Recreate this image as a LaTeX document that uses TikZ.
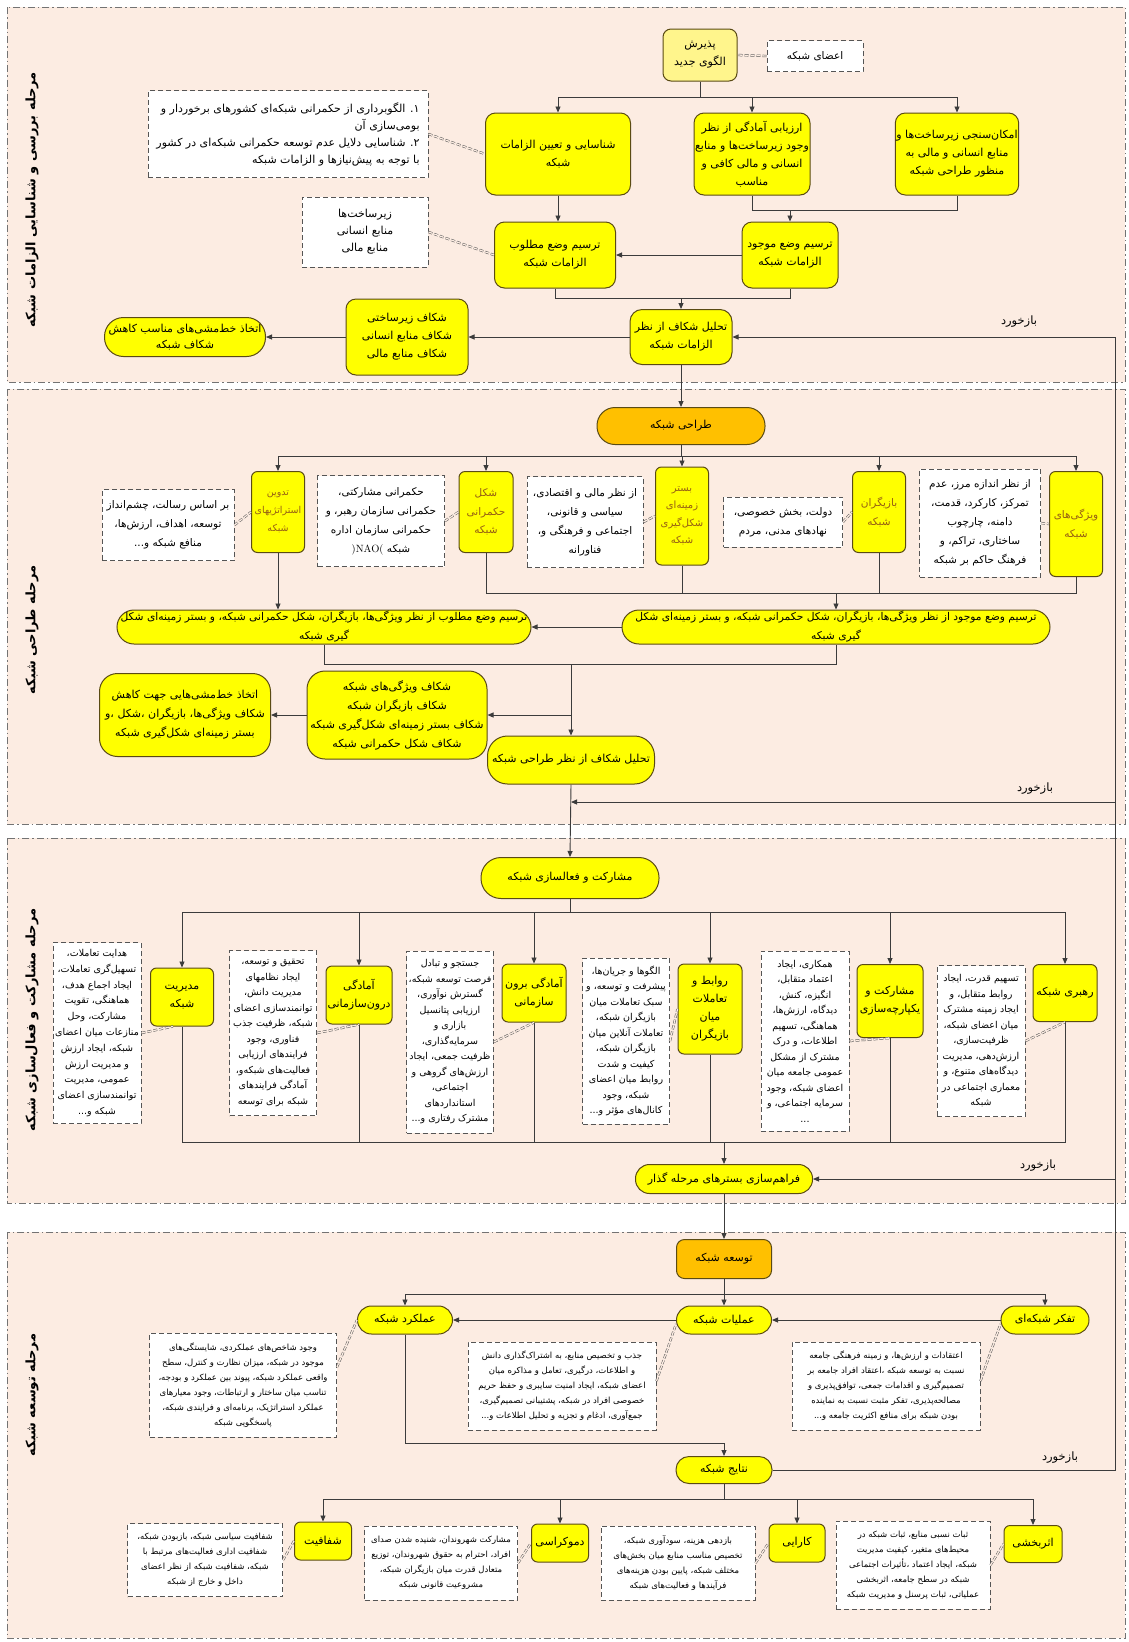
\documentclass[tikz,border=0pt]{standalone}
\usepackage{fontspec}
\usetikzlibrary{arrows.meta}
\newfontfamily\pfont[Script=Arabic]{DejaVu Sans}
\TeXXeTstate=1
\newcommand{\fa}[1]{\beginR#1\endR}
\newcommand{\fyel}{\pfont\fontsize{11}{18}\selectfont}
\newcommand{\fnar}{\pfont\fontsize{10.5}{18.5}\selectfont}
\newcommand{\fdsh}{\pfont\fontsize{10.5}{19}\selectfont}
\newcommand{\fdsm}{\pfont\fontsize{9.5}{15.5}\selectfont}
\newcommand{\fdss}{\pfont\fontsize{8.5}{15}\selectfont}
\definecolor{bgc}{RGB}{252,236,226}
\definecolor{yel}{RGB}{255,255,0}
\definecolor{pyel}{RGB}{255,245,140}
\definecolor{org}{RGB}{255,192,0}
\definecolor{ybd}{RGB}{90,75,20}
\definecolor{lnc}{RGB}{60,60,60}
\definecolor{dbc}{RGB}{85,85,85}
\definecolor{brn}{RGB}{150,95,20}
\begin{document}
\begin{tikzpicture}[x=1pt,y=-1pt,
 stg/.style={draw=black!55, fill=bgc, line width=0.7pt, dash pattern=on 7pt off 3pt on 1.5pt off 3pt},
 yb/.style={draw=ybd, fill=yel, line width=1pt, rounded corners=8pt, align=center, inner sep=1pt, text=black, font=\fyel},
 ob/.style={yb, fill=org},
 db/.style={draw=dbc, fill=white, line width=1pt, dash pattern=on 5pt off 3pt, align=center, inner sep=2pt, font=\fdsh},
 dbm/.style={db, font=\fdsm},
 dbs/.style={db, font=\fdss},
 ln/.style={draw=lnc, line width=0.9pt},
 ar/.style={ln, -{Triangle[length=6pt,width=5pt]}},
 dl/.style={draw=dbc, line width=0.5pt, dash pattern=on 4pt off 2pt, double=bgc, double distance=1.3pt},
 lab/.style={rotate=90, font={\pfont\bfseries\fontsize{13}{15}\selectfont}},
 fbt/.style={font={\pfont\fontsize{11.5}{13}\selectfont}},
 bt/.style={text=brn, font=\fnar},
]
\useasboundingbox (0,0) rectangle (1129,1642);
\fill[white] (0,0) rectangle (1129,1642);
\draw[stg] (7,7) rectangle (1125,382);
\draw[stg] (7,389) rectangle (1125,824);
\draw[stg] (7,838) rectangle (1125,1203);
\draw[stg] (7,1232) rectangle (1125,1638);

% stage labels
\node[lab] (L1) at (32,200) {\fa{مرحله بررسی و شناسایی الزامات شبکه}};
\node[lab] (L2) at (32,630) {\fa{مرحله طراحی شبکه}};
\node[lab] (L3) at (32,1020) {\fa{مرحله مشارکت و فعال‌سازی شبکه}};
\node[lab] (L4) at (32,1395) {\fa{مرحله توسعه شبکه}};

% ---------- stage 1
\node[yb, fill=pyel, minimum width=74, minimum height=52] (paz) at (700,55) {\fa{پذیرش}\\\fa{الگوی جدید}};
\node[db, minimum width=96, minimum height=31] (aza) at (815,56) {\fa{اعضای شبکه}};
\node[yb, rounded corners=10pt, minimum width=145, minimum height=82] (shen) at (558,154) {\fa{شناسایی و تعیین الزامات}\\\fa{شبکه}};
\node[yb, rounded corners=10pt, minimum width=116, minimum height=82] (arz) at (752,154) {\fa{ارزیابی آمادگی از نظر}\\\fa{وجود زیرساخت‌ها و منابع}\\\fa{انسانی و مالی کافی و}\\\fa{مناسب}};
\node[yb, rounded corners=10pt, minimum width=119, minimum height=82] (emk) at (957,154) {\fa{امکان‌سنجی زیرساخت‌ها و}\\\fa{منابع انسانی و مالی به}\\\fa{منظور طراحی شبکه}};
\node[yb, rounded corners=10pt, minimum width=96, minimum height=66] (movj) at (790,255) {\fa{ترسیم وضع موجود}\\\fa{الزامات شبکه}};
\node[yb, rounded corners=10pt, minimum width=121, minimum height=66] (matl) at (555,255) {\fa{ترسیم وضع مطلوب}\\\fa{الزامات شبکه}};
\node[yb, rounded corners=12pt, minimum width=102, minimum height=55] (tahl) at (681,337) {\fa{تحلیل شکاف از نظر}\\\fa{الزامات شبکه}};
\node[yb, rounded corners=10pt, minimum width=122, minimum height=76] (shk1) at (407,337) {\fa{شکاف زیرساختی}\\\fa{شکاف منابع انسانی}\\\fa{شکاف منابع مالی}};
\node[yb, rounded corners=19pt, minimum width=161, minimum height=39, font={\pfont\fontsize{11}{16}\selectfont}] (ett1) at (185,337) {\fa{اتخاذ خط‌مشی‌های مناسب کاهش}\\\fa{شکاف شبکه}};
\node[db, align=right, minimum width=280, minimum height=87, font={\pfont\fontsize{11}{17}\selectfont}] (d1) at (288,134) {\fa{۱. الگوبرداری از حکمرانی شبکه‌ای کشورهای برخوردار و}\\\fa{بومی‌سازی آن}\\\fa{۲. شناسایی دلایل عدم توسعه حکمرانی شبکه‌ای در کشور}\\\fa{با توجه به پیش‌نیازها و الزامات شبکه}};
\node[db, minimum width=126, minimum height=70, font={\pfont\fontsize{11}{17}\selectfont}] (d2) at (365,232) {\fa{زیرساخت‌ها}\\\fa{منابع انسانی}\\\fa{منابع مالی}};
\node[fbt] (fb1) at (1019,322) {\fa{بازخورد}};

% ---------- stage 2
\node[ob, rounded corners=18pt, minimum width=168, minimum height=37] (tarahi) at (681,426) {\fa{طراحی شبکه}};
\node[yb, bt, rounded corners=6pt, minimum width=53, minimum height=105] (vij) at (1076,524) {\fa{ویژگی‌های}\\\fa{شبکه}};
\node[db, minimum width=121, minimum height=108] (dv) at (980,523) {\fa{از نظر اندازه مرز، عدم}\\\fa{تمرکز، کارکرد، قدمت،}\\\fa{دامنه، چارچوب}\\\fa{ساختاری، تراکم، و}\\\fa{فرهنگ حاکم بر شبکه}};
\node[yb, bt, rounded corners=6pt, minimum width=53, minimum height=81] (bazig) at (879,512) {\fa{بازیگران}\\\fa{شبکه}};
\node[db, minimum width=119, minimum height=50] (dbz) at (783,522) {\fa{دولت، بخش خصوصی،}\\\fa{نهادهای مدنی، مردم}};
\node[yb, bt, rounded corners=6pt, minimum width=53, minimum height=98, font={\pfont\fontsize{10}{17.5}\selectfont}] (bastar) at (682,516) {\fa{بستر}\\\fa{زمینه‌ای}\\\fa{شکل‌گیری}\\\fa{شبکه}};
\node[db, minimum width=116, minimum height=91] (dbs) at (585,522) {\fa{از نظر مالی و اقتصادی،}\\\fa{سیاسی و قانونی،}\\\fa{اجتماعی و فرهنگی و،}\\\fa{فناورانه}};
\node[yb, bt, rounded corners=6pt, minimum width=54, minimum height=81] (hokm) at (486,512) {\fa{شکل}\\\fa{حکمرانی}\\\fa{شبکه}};
\node[db, minimum width=127, minimum height=91] (dh) at (381,521) {\fa{حکمرانی مشارکتی،}\\\fa{حکمرانی سازمان رهبر، و}\\\fa{حکمرانی سازمان اداره}\\\fa{شبکه \beginL{\rmfamily )NAO(}\endL}};
\node[yb, bt, rounded corners=6pt, minimum width=53, minimum height=81, font={\pfont\fontsize{9.5}{18}\selectfont}] (tadvin) at (278,512) {\fa{تدوین}\\\fa{استراتژیهای}\\\fa{شبکه}};
\node[db, minimum width=132, minimum height=71] (dt) at (168,525) {\fa{بر اساس رسالت، چشم‌انداز}\\\fa{توسعه، اهداف، ارزش‌ها،}\\\fa{منافع شبکه و...}};
\node[yb, rounded corners=17pt, minimum width=428, minimum height=34] (mvj2) at (836,627) {};
\node[align=center, font={\pfont\fontsize{10.7}{19}\selectfont}] (mvj2t) at (mvj2.center) {\fa{ترسیم وضع موجود از نظر ویژگی‌ها، بازیگران، شکل حکمرانی شبکه، و بستر زمینه‌ای شکل}\\\fa{گیری شبکه}};
\node[yb, rounded corners=17pt, minimum width=414, minimum height=34] (mtl2) at (324,627) {};
\node[align=center, font={\pfont\fontsize{10.7}{19}\selectfont}] (mtl2t) at (mtl2.center) {\fa{ترسیم وضع مطلوب از نظر ویژگی‌ها، بازیگران، شکل حکمرانی شبکه، و بستر زمینه‌ای شکل}\\\fa{گیری شبکه}};
\node[yb, rounded corners=20pt, minimum width=167, minimum height=48] (tahl2) at (571,760) {\fa{تحلیل شکاف از نظر طراحی شبکه}};
\node[yb, rounded corners=18pt, minimum width=180, minimum height=88, font={\pfont\fontsize{11}{19}\selectfont}] (shk2) at (397,715) {\fa{شکاف ویژگی‌های شبکه}\\\fa{شکاف بازیگران شبکه}\\\fa{شکاف بستر زمینه‌ای شکل‌گیری شبکه}\\\fa{شکاف شکل حکمرانی شبکه}};
\node[yb, rounded corners=18pt, minimum width=171, minimum height=83, font={\pfont\fontsize{11}{19}\selectfont}] (ett2) at (185,715) {\fa{اتخاذ خط‌مشی‌هایی جهت کاهش}\\\fa{شکاف ویژگی‌ها، بازیگران ،شکل ،و}\\\fa{بستر زمینه‌ای شکل‌گیری شبکه}};
\node[fbt] (fb2l) at (1035,789) {\fa{بازخورد}};

% ---------- stage 3
\node[yb, rounded corners=20pt, minimum width=178, minimum height=41] (mosh) at (570,878) {\fa{مشارکت و فعالسازی شبکه}};
\node[yb, rounded corners=6pt, minimum width=64, minimum height=57] (rahb) at (1065,993) {\fa{رهبری شبکه}};
\node[dbm, minimum width=88, minimum height=151] (dr) at (981,1041) {\fa{تسهیم قدرت، ایجاد}\\\fa{روابط متقابل، و}\\\fa{ایجاد زمینه مشترک}\\\fa{میان اعضای شبکه،}\\\fa{ظرفیت‌سازی،}\\\fa{ارزش‌دهی، مدیریت}\\\fa{دیدگاه‌های متنوع، و}\\\fa{معماری اجتماعی در}\\\fa{شبکه}};
\node[yb, rounded corners=6pt, minimum width=66, minimum height=73] (mosh2) at (890,1001) {\fa{مشارکت و}\\\fa{یکپارچه‌سازی}};
\node[dbm, minimum width=88, minimum height=180] (dm) at (805,1041) {\fa{همکاری، ایجاد}\\\fa{اعتماد متقابل،}\\\fa{انگیزه، کنش،}\\\fa{دیدگاه، ارزش‌ها،}\\\fa{هماهنگی، تسهیم}\\\fa{اطلاعات، و درک}\\\fa{مشترک از مشکل}\\\fa{عمومی جامعه میان}\\\fa{اعضای شبکه، وجود}\\\fa{سرمایه اجتماعی، و}\\\fa{...}};
\node[yb, rounded corners=6pt, minimum width=64, minimum height=90] (ravab) at (710,1009) {\fa{روابط و}\\\fa{تعاملات}\\\fa{میان}\\\fa{بازیگران}};
\node[dbm, minimum width=87, minimum height=166] (drv) at (626,1041) {\fa{الگوها و جریان‌ها،}\\\fa{پیشرفت و توسعه، و}\\\fa{سبک تعاملات میان}\\\fa{بازیگران شبکه،}\\\fa{تعاملات آنلاین میان}\\\fa{بازیگران شبکه،}\\\fa{کیفیت و شدت}\\\fa{روابط میان اعضای}\\\fa{شبکه، وجود}\\\fa{کانال‌های مؤثر و...}};
\node[yb, rounded corners=6pt, minimum width=64, minimum height=58] (boron) at (534,993) {\fa{آمادگی برون}\\\fa{سازمانی}};
\node[dbm, minimum width=86, minimum height=182] (dbo) at (450,1042) {\fa{جستجو و تبادل}\\\fa{فرصت توسعه شبکه،}\\\fa{گسترش نوآوری،}\\\fa{ارزیابی پتانسیل}\\\fa{بازاری و}\\\fa{سرمایه‌گذاری،}\\\fa{ظرفیت جمعی، ایجاد}\\\fa{ارزش‌های گروهی و}\\\fa{اجتماعی،}\\\fa{استانداردهای}\\\fa{مشترک رفتاری و...}};
\node[yb, rounded corners=6pt, minimum width=66, minimum height=58] (daroon) at (359,995) {\fa{آمادگی}\\\fa{درون‌سازمانی}};
\node[dbm, minimum width=87, minimum height=165] (dd) at (273,1033) {\fa{تحقیق و توسعه،}\\\fa{ایجاد نظامهای}\\\fa{مدیریت دانش،}\\\fa{توانمندسازی اعضای}\\\fa{شبکه، ظرفیت جذب}\\\fa{فناوری، وجود}\\\fa{فرایندهای ارزیابی}\\\fa{فعالیت‌های شبکه‌و،}\\\fa{آمادگی فرایندهای}\\\fa{شبکه برای توسعه}};
\node[yb, rounded corners=6pt, minimum width=63, minimum height=58] (modir) at (182,997) {\fa{مدیریت}\\\fa{شبکه}};
\node[dbm, minimum width=88, minimum height=181, font={\pfont\fontsize{9.5}{15.8}\selectfont}] (dmo) at (97,1033) {\fa{هدایت تعاملات،}\\\fa{تسهیل‌گری تعاملات،}\\\fa{ایجاد اجماع هدف،}\\\fa{هماهنگی، تقویت}\\\fa{مشارکت، وحل}\\\fa{منازعات میان اعضای}\\\fa{شبکه، ایجاد ارزش}\\\fa{و مدیریت ارزش}\\\fa{عمومی، مدیریت}\\\fa{توانمندسازی اعضای}\\\fa{شبکه و...}};
\node[yb, rounded corners=14pt, minimum width=177, minimum height=29] (faraham) at (724,1179) {\fa{فراهم‌سازی بسترهای مرحله گذار}};
\node[fbt] (fb3l) at (1038,1166) {\fa{بازخورد}};

% ---------- stage 4
\node[ob, rounded corners=8pt, minimum width=95, minimum height=39] (tosee) at (724,1259) {\fa{توسعه شبکه}};
\node[yb, rounded corners=14pt, minimum width=95, minimum height=28] (amaliat) at (724,1320) {\fa{عملیات شبکه}};
\node[yb, rounded corners=14pt, minimum width=88, minimum height=28] (tafak) at (1045,1320) {\fa{تفکر شبکه‌ای}};
\node[yb, rounded corners=14pt, minimum width=95, minimum height=28] (amalk) at (405,1320) {\fa{عملکرد شبکه}};
\node[dbs, minimum width=188, minimum height=88] (dtf) at (886,1386) {\fa{اعتقادات و ارزش‌ها، و زمینه فرهنگی جامعه}\\\fa{نسبت به توسعه شبکه ،اعتقاد افراد جامعه بر}\\\fa{تصمیم‌گیری و اقدامات جمعی، توافق‌پذیری و}\\\fa{مصالحه‌پذیری، تفکر مثبت نسبت به نماینده}\\\fa{بودن شبکه برای منافع اکثریت جامعه و...}};
\node[dbs, minimum width=188, minimum height=88] (dam) at (562,1386) {\fa{جذب و تخصیص منابع، به اشتراک‌گذاری دانش}\\\fa{و اطلاعات، درگیری، تعامل و مذاکره میان}\\\fa{اعضای شبکه، ایجاد امنیت سایبری و حفظ حریم}\\\fa{خصوصی افراد در شبکه، پشتیبانی تصمیم‌گیری،}\\\fa{جمع‌آوری، ادغام و تجزیه و تحلیل اطلاعات و...}};
\node[dbs, minimum width=187, minimum height=104] (dak) at (243,1385) {\fa{وجود شاخص‌های عملکردی، شایستگی‌های}\\\fa{موجود در شبکه، میزان نظارت و کنترل، سطح}\\\fa{واقعی عملکرد شبکه، پیوند بین عملکرد و بودجه،}\\\fa{تناسب میان ساختار و ارتباطات، وجود معیارهای}\\\fa{عملکرد استراتژیک، برنامه‌ای و فرایندی شبکه،}\\\fa{پاسخگویی شبکه}};
\node[yb, rounded corners=13pt, minimum width=96, minimum height=27] (nat) at (724,1470) {\fa{نتایج شبکه}};
\node[fbt] (fb4l) at (1060,1458) {\fa{بازخورد}};
\node[yb, rounded corners=6pt, minimum width=58, minimum height=37] (asar) at (1033,1544) {\fa{اثربخشی}};
\node[dbs, minimum width=154, minimum height=88] (dasar) at (913,1565) {\fa{ثبات نسبی منابع، ثبات شبکه در}\\\fa{محیط‌های متغیر، کیفیت مدیریت}\\\fa{شبکه، ایجاد اعتماد ،تأثیرات اجتماعی}\\\fa{شبکه در سطح جامعه، اثربخشی}\\\fa{عملیاتی، ثبات پرسنل و مدیریت شبکه}};
\node[yb, rounded corners=6pt, minimum width=56, minimum height=38] (kara) at (797,1543) {\fa{کارایی}};
\node[dbs, minimum width=154, minimum height=74] (dka) at (678,1563) {\fa{بازدهی هزینه، سودآوری شبکه،}\\\fa{تخصیص مناسب منابع میان بخش‌های}\\\fa{مختلف شبکه، پایین بودن هزینه‌های}\\\fa{فرآیندها و فعالیت‌های شبکه}};
\node[yb, rounded corners=6pt, minimum width=57, minimum height=38] (demo) at (560,1543) {\fa{دموکراسی}};
\node[dbs, minimum width=153, minimum height=74] (ddm) at (441,1563) {\fa{مشارکت شهروندان، شنیده شدن صدای}\\\fa{افراد، احترام به حقوق شهروندان، توزیع}\\\fa{متعادل قدرت میان بازیگران شبکه،}\\\fa{مشروعیت قانونی شبکه}};
\node[yb, rounded corners=6pt, minimum width=57, minimum height=38] (shaf) at (323,1541) {\fa{شفافیت}};
\node[dbs, minimum width=155, minimum height=73] (dsh) at (205,1560) {\fa{شفافیت سیاسی شبکه، بازبودن شبکه،}\\\fa{شفافیت اداری فعالیت‌های مرتبط با}\\\fa{شبکه، شفافیت شبکه از نظر اعضای}\\\fa{داخل و خارج از شبکه}};

% ---------- coordinates
\coordinate (j1) at (700,97);
\coordinate (j2) at (790,210);
\coordinate (j3) at (681,298);
\coordinate (fbx) at (1115,337);
\coordinate (j4) at (681,456);
\coordinate (j5) at (836,593);
\coordinate (j6) at (571,664);
\coordinate (j7) at (571,715);
\coordinate (fb2) at (1115,802);
\coordinate (j8) at (570,912);
\coordinate (j9) at (724,1142);
\coordinate (j10) at (724,1294);
\coordinate (j11) at (724,1443);
\coordinate (j12) at (724,1499);

% ---------- connectors stage 1
\draw[ln] (paz.south) -- (j1);
\draw[ln] (shen.north |- j1) -- (emk.north |- j1);
\draw[ar] (shen.north |- j1) -- (shen.north);
\draw[ar] (arz.north |- j1) -- (arz.north);
\draw[ar] (emk.north |- j1) -- (emk.north);
\draw[dl] (aza.west) -- (paz.east);
\draw[ln] (arz.south) -- (arz.south |- j2) -- (emk.south |- j2) -- (emk.south);
\draw[ar] (j2) -- (movj.north);
\draw[ar] (shen.south) -- (shen.south |- matl.north);
\draw[ar] (movj.west) -- (matl.east);
\draw[ln] (matl.south) -- (matl.south |- j3) -- (movj.south |- j3) -- (movj.south);
\draw[ar] (j3) -- (tahl.north);
\draw[ar] (tahl.west) -- (shk1.east);
\draw[ar] (shk1.west) -- (ett1.east);
\draw[dl] (d1.east) -- (shen.west);
\draw[dl] (d2.east) -- (matl.west);
\draw[ln] (nat.east) -| (fbx);
\draw[ar] (fbx) -- (tahl.east);
\draw[ar] (tahl.south) -- (tarahi.north);

% ---------- connectors stage 2
\draw[ln] (tarahi.south) -- (j4);
\draw[ln] (tadvin.north |- j4) -- (vij.north |- j4);
\draw[ar] (tadvin.north |- j4) -- (tadvin.north);
\draw[ar] (hokm.north |- j4) -- (hokm.north);
\draw[ar] (bastar.north |- j4) -- (bastar.north);
\draw[ar] (bazig.north |- j4) -- (bazig.north);
\draw[ar] (vij.north |- j4) -- (vij.north);
\draw[dl] (dv.east) -- (vij.west);
\draw[dl] (dbz.east) -- (bazig.west);
\draw[dl] (dbs.east) -- (bastar.west);
\draw[dl] (dh.east) -- (hokm.west);
\draw[dl] (dt.east) -- (tadvin.west);
\draw[ln] (hokm.south) -- (hokm.south |- j5) -- (vij.south |- j5) -- (vij.south);
\draw[ln] (bastar.south) -- (bastar.south |- j5);
\draw[ln] (bazig.south) -- (bazig.south |- j5);
\draw[ar] (j5) -- (mvj2.north);
\draw[ar] (tadvin.south) -- (tadvin.south |- mtl2.north);
\draw[ar] (mvj2.west) -- (mtl2.east);
\draw[ln] (mtl2.south) -- (mtl2.south |- j6) -- (mvj2.south |- j6) -- (mvj2.south);
\draw[ar] (j6) -- (tahl2.north);
\draw[ar] (j7) -- (shk2.east);
\draw[ar] (shk2.west) -- (ett2.east);
\draw[ar] (tahl2.south) -- (mosh.north);
\draw[ar] (fb2) -- (tahl2.south |- fb2);

% ---------- connectors stage 3
\draw[ln] (mosh.south) -- (j8);
\draw[ln] (modir.north |- j8) -- (rahb.north |- j8);
\foreach \n in {modir,daroon,boron,ravab,mosh2,rahb} {
  \draw[ar] (\n.north |- j8) -- (\n.north);
}
\draw[ln] (modir.south) -- (modir.south |- j9) -- (rahb.south |- j9) -- (rahb.south);
\foreach \n in {daroon,boron,ravab,mosh2} {
  \draw[ln] (\n.south) -- (\n.south |- j9);
}
\draw[ar] (j9) -- (faraham.north);
\draw[dl] (dmo.east) -- ([xshift=-9pt]modir.south);
\draw[dl] (dd.east) -- (daroon.south);
\draw[dl] (dbo.east) -- (boron.south);
\draw[dl] (drv.east) -- (ravab.west);
\draw[dl] (dm.east) -- (mosh2.south);
\draw[dl] (dr.east) -- (rahb.south);
\draw[ar] (faraham.east -| fbx) -- (faraham.east);

% ---------- connectors stage 4
\draw[ar] (faraham.south) -- (tosee.north);
\draw[ar] (tosee.south) -- (amaliat.north);
\draw[ln] (amalk.north |- j10) -- (tafak.north |- j10);
\draw[ar] (amalk.north |- j10) -- (amalk.north);
\draw[ar] (tafak.north |- j10) -- (tafak.north);
\draw[ar] (tafak.west) -- (amaliat.east);
\draw[ar] (amaliat.west) -- (amalk.east);
\draw[dl] ([yshift=5pt]dtf.east) -- ([yshift=-4pt]tafak.west);
\draw[dl] ([yshift=5pt]dam.east) -- ([yshift=-4pt]amaliat.west);
\draw[dl] ([yshift=18pt]dak.east) -- (amalk.west);
\draw[ln] (amalk.south) |- (j11);
\draw[ar] (j11) -- (nat.north);
\draw[ln] (nat.south) -- (j12);
\draw[ln] (shaf.north |- j12) -- (asar.north |- j12);
\foreach \n in {shaf,demo,kara,asar} {
  \draw[ar] (\n.north |- j12) -- (\n.north);
}
\draw[dl] (dsh.east) -- (shaf.west);
\draw[dl] (ddm.east) -- (demo.west);
\draw[dl] (dka.east) -- (kara.west);
\draw[dl] (dasar.east) -- (asar.west);
\end{tikzpicture}
\end{document}
